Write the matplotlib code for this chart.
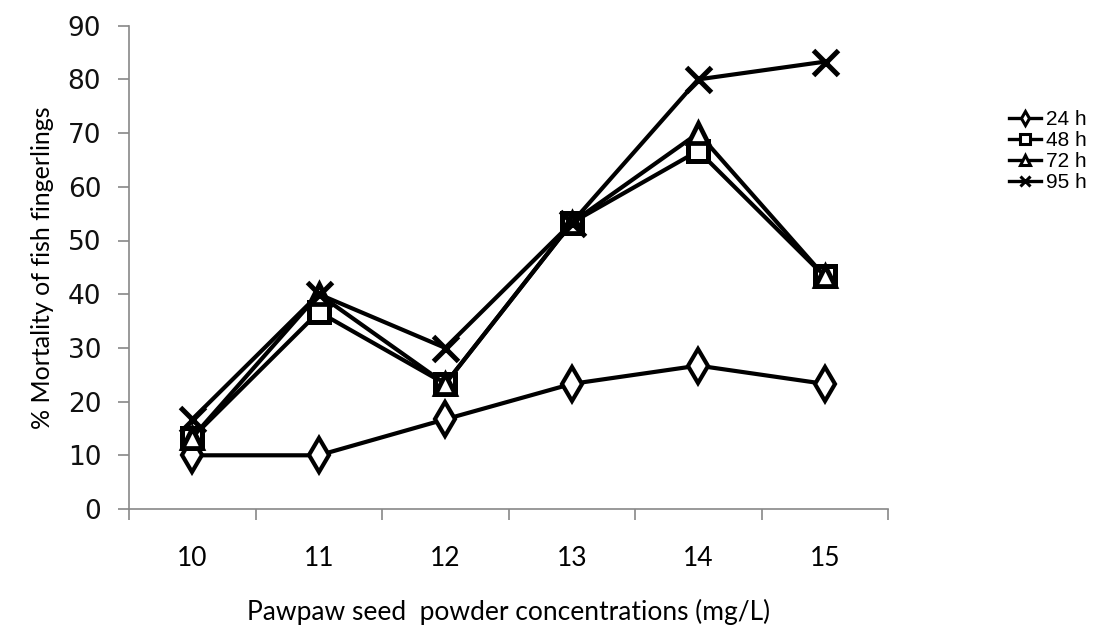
import matplotlib.pyplot as plt
from matplotlib.lines import Line2D

# concentrations (mg/L)
conc = [10, 11, 12, 13, 14, 15]
mort_24h = [10, 10, 16.7, 23.3, 26.7, 23.3]
mort_48h = [13.3, 36.7, 23.3, 53.3, 66.7, 43.3]
mort_72h = [13.3, 40, 23.3, 53.3, 70, 43.3]
mort_95h = [16.7, 40, 30, 53.3, 80, 83.3]
labels = ["24 h", "48 h", "72 h", "95 h"]
y_ticks = [0, 10, 20, 30, 40, 50, 60, 70, 80, 90]

fig = plt.figure(figsize=(10.98, 6.4), dpi=100)
ax = fig.add_axes([129 / 1098, 1 - 509 / 640, (888 - 129) / 1098, (509 - 25.7) / 640])

styles = [
    (mort_24h, "d", 17, 3.0),
    (mort_48h, "s", 15, 3.6),
    (mort_72h, "^", 14, 3.4),
    (mort_95h, "x", 18, 3.6),
]
for vals, mk, ms, mew in styles:
    ax.plot(conc, vals, color="black", lw=3.0, marker=mk, ms=ms,
            mfc="white", mec="black", mew=mew, clip_on=False)

ax.set_xlim(9.5, 15.5)
ax.set_ylim(0, 90)
ax.set_yticks(y_ticks)
ax.set_yticklabels([str(v) for v in y_ticks], fontfamily="DejaVu Sans", fontsize=19, color="#111111")

# category axis: ticks between categories, labels at category centres
ax.set_xticks([9.5 + i for i in range(7)])
ax.set_xticklabels([])
ax.set_xticks(conc, minor=True)
ax.set_xticklabels([str(c) for c in conc], minor=True, fontfamily="Lato", fontsize=19)
ax.tick_params(axis="x", which="minor", length=0, pad=27)
ax.tick_params(axis="x", which="major", length=8, width=1.2, color="#888888", direction="out")
ax.tick_params(axis="y", length=8, width=1.2, color="#888888", direction="out", pad=12)

for side in ["top", "right"]:
    ax.spines[side].set_visible(False)
for side in ["left", "bottom"]:
    ax.spines[side].set_color("#888888")
    ax.spines[side].set_linewidth(1.2)

ax.set_xlabel("Pawpaw seed  powder concentrations (mg/L)", fontfamily="Lato", fontsize=19, labelpad=20)
ax.set_ylabel("% Mortality of fish fingerlings", fontfamily="Lato", fontsize=18, labelpad=10)

handles = [
    Line2D([], [], color="black", lw=2.4, marker=mk, ms=7.5, mfc="white", mec="black", mew=2.2)
    for mk in ["d", "s", "^", "x"]
]
fig.legend(handles, labels, loc="upper left", bbox_to_anchor=(1009 / 1098, 1 - 110 / 640),
           frameon=False, prop={"family": "Liberation Sans", "size": 15},
           handlelength=1.55, handletextpad=0.25, labelspacing=0.1, borderpad=0, borderaxespad=0)

fig.savefig("out.png", dpi=100)
